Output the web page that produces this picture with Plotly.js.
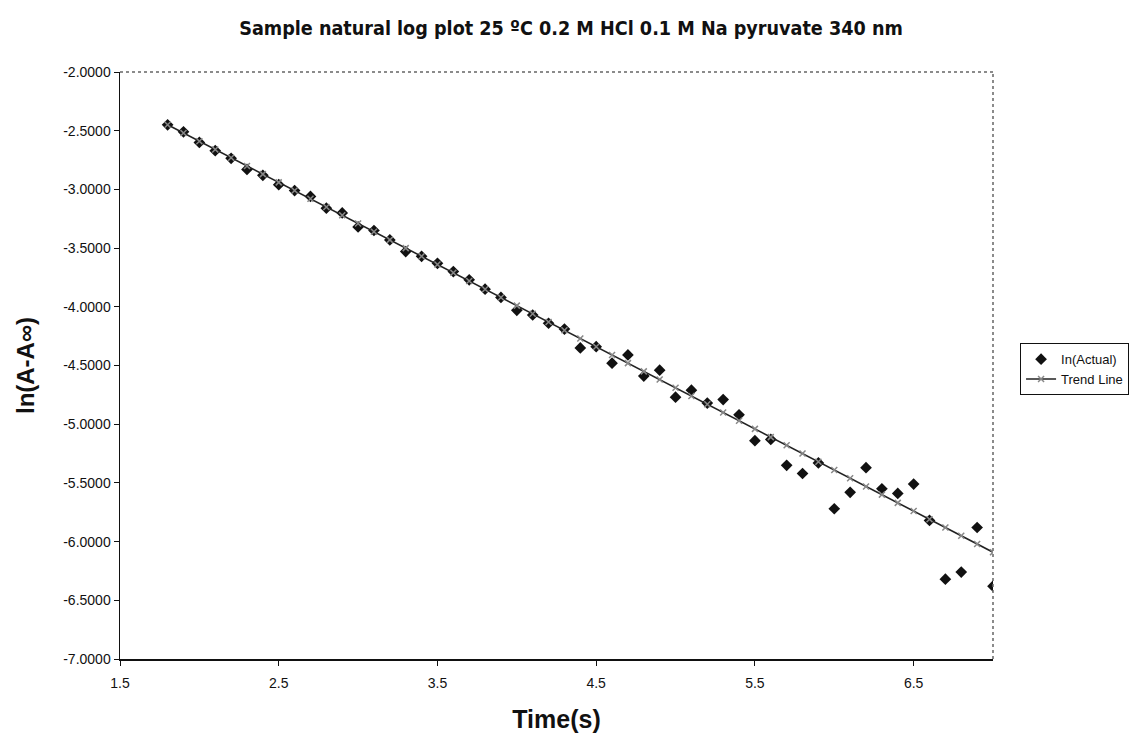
<!DOCTYPE html>
<html>
<head>
<meta charset="utf-8">
<script src="https://cdn.plot.ly/plotly-3.0.1.min.js"></script>
<style>
html, body { margin: 0; padding: 0; background: #fff; }
#chart { width: 1142px; height: 740px; }
</style>
</head>
<body>
<div id="chart"></div>
<script>
// Time (s)
var timeS = [1.8, 1.9, 2.0, 2.1, 2.2, 2.3, 2.4, 2.5, 2.6, 2.7, 2.8, 2.9, 3.0, 3.1, 3.2, 3.3, 3.4, 3.5,
  3.6, 3.7, 3.8, 3.9, 4.0, 4.1, 4.2, 4.3, 4.4, 4.5, 4.6, 4.7, 4.8, 4.9, 5.0, 5.1, 5.2, 5.3, 5.4,
  5.5, 5.6, 5.7, 5.8, 5.9, 6.0, 6.1, 6.2, 6.3, 6.4, 6.5, 6.6, 6.7, 6.8, 6.9, 7.0];

// ln(Actual)
var lnActual = [-2.45, -2.51, -2.60, -2.67, -2.735, -2.83, -2.88, -2.96, -3.01, -3.06, -3.16, -3.20,
  -3.32, -3.35, -3.43, -3.53, -3.57, -3.63, -3.70, -3.77, -3.85, -3.92, -4.03, -4.07, -4.14, -4.19,
  -4.35, -4.34, -4.48, -4.41, -4.59, -4.54, -4.77, -4.71, -4.82, -4.79, -4.92, -5.14, -5.13, -5.35,
  -5.42, -5.33, -5.72, -5.58, -5.37, -5.55, -5.59, -5.51, -5.82, -6.32, -6.26, -5.88, -6.38];

// Trend Line
var trendLine = [-2.45, -2.52, -2.59, -2.66, -2.73, -2.80, -2.87, -2.94, -3.01, -3.08, -3.15, -3.22,
  -3.29, -3.36, -3.43, -3.50, -3.57, -3.64, -3.71, -3.78, -3.85, -3.92, -3.99, -4.06, -4.13, -4.20,
  -4.27, -4.34, -4.41, -4.48, -4.55, -4.62, -4.69, -4.76, -4.83, -4.90, -4.97, -5.04, -5.11, -5.18,
  -5.25, -5.32, -5.39, -5.46, -5.53, -5.60, -5.67, -5.74, -5.81, -5.88, -5.95, -6.02, -6.09];

// Tick labels
var xTickVals = [1.5, 2.5, 3.5, 4.5, 5.5, 6.5];
var xTickText = ['1.5', '2.5', '3.5', '4.5', '5.5', '6.5'];
var yTickVals = [-2.0, -2.5, -3.0, -3.5, -4.0, -4.5, -5.0, -5.5, -6.0, -6.5, -7.0];
var yTickText = ['-2.0000', '-2.5000', '-3.0000', '-3.5000', '-4.0000', '-4.5000', '-5.0000',
  '-5.5000', '-6.0000', '-6.5000', '-7.0000'];

var traces = [
  {
    x: timeS, y: lnActual, type: 'scatter', mode: 'markers', name: 'In(Actual)',
    marker: { symbol: 'diamond', size: 9, color: '#111111' }
  },
  {
    x: timeS, y: trendLine, type: 'scatter', mode: 'lines+markers', name: 'Trend Line',
    line: { color: '#222222', width: 1.6 },
    marker: { symbol: 'x-thin', size: 6, color: '#888888', line: { color: '#888888', width: 1.5 } }
  }
];

var layout = {
  width: 1142, height: 740,
  margin: { l: 120, r: 149, t: 72, b: 81 },
  paper_bgcolor: '#ffffff', plot_bgcolor: '#ffffff',
  font: { family: 'Liberation Sans, Arial, sans-serif', color: '#111111' },
  title: {
    text: '<b>Sample natural log plot 25 ºC 0.2 M HCl 0.1 M Na pyruvate 340 nm</b>',
    font: { family: 'Liberation Sans Narrow, Arial Narrow, DejaVu Sans Condensed, sans-serif', size: 19.6, color: '#111111' },
    x: 0.5, xanchor: 'center', y: 0.962, yanchor: 'middle'
  },
  xaxis: {
    range: [1.5, 7.0], tickmode: 'array', tickvals: xTickVals, ticktext: xTickText,
    showgrid: false, zeroline: false, automargin: false,
    showline: true, linecolor: '#111111', linewidth: 1.5,
    ticks: 'outside', ticklen: 5, tickcolor: '#111111', ticklabelstandoff: 6,
    tickfont: { size: 14, color: '#111111' },
    title: { text: '<b>Time(s)</b>', font: { size: 25, color: '#111111' }, standoff: 20 }
  },
  yaxis: {
    range: [-7.0, -2.0], tickmode: 'array', tickvals: yTickVals, ticktext: yTickText,
    showgrid: false, zeroline: false, automargin: false,
    showline: true, linecolor: '#111111', linewidth: 1.5,
    ticks: 'outside', ticklen: 5, tickcolor: '#111111',
    tickfont: { size: 14, color: '#111111' },
    title: { text: '<b>ln(A-A∞)</b>', font: { size: 24, color: '#111111' }, standoff: 22 }
  },
  shapes: [
    { type: 'line', xref: 'paper', yref: 'paper', x0: 0, x1: 1, y0: 1, y1: 1,
      line: { color: '#666666', width: 1.5, dash: 'dot' } },
    { type: 'line', xref: 'paper', yref: 'paper', x0: 1, x1: 1, y0: 0, y1: 1,
      line: { color: '#666666', width: 1.5, dash: 'dot' } }
  ],
  showlegend: true,
  legend: {
    x: 1.031, y: 0.538, xanchor: 'left', yanchor: 'top',
    bgcolor: '#ffffff', bordercolor: '#111111', borderwidth: 1,
    font: { size: 13, color: '#111111' },
    tracegroupgap: 0, itemwidth: 30
  }
};

Plotly.newPlot('chart', traces, layout, { displayModeBar: false, staticPlot: true });
</script>
</body>
</html>
